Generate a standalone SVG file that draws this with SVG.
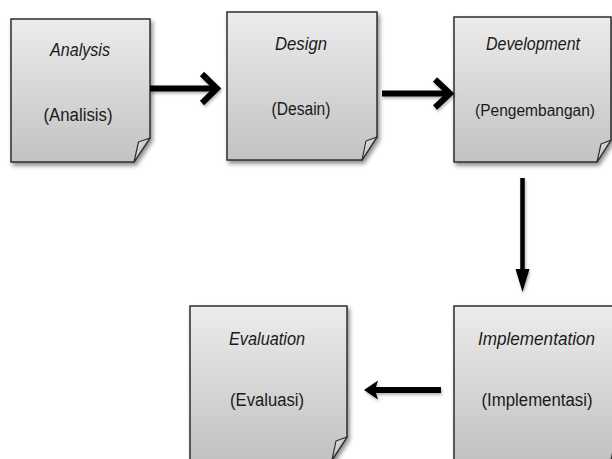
<svg xmlns="http://www.w3.org/2000/svg" width="612" height="459" viewBox="0 0 612 459">
  <defs>
    <linearGradient id="boxFill" x1="0" y1="0" x2="0" y2="1">
      <stop offset="0" stop-color="#ececec"/>
      <stop offset="1" stop-color="#c2c2c2"/>
    </linearGradient>
    <linearGradient id="flapFill" x1="0" y1="0" x2="1" y2="1">
      <stop offset="0" stop-color="#f4f4f4"/>
      <stop offset="1" stop-color="#9a9a9a"/>
    </linearGradient>
    <filter id="shadow" x="-10%" y="-10%" width="130%" height="130%">
      <feDropShadow dx="2" dy="3" stdDeviation="2" flood-color="#000" flood-opacity="0.45"/>
    </filter>
    <filter id="ashadow" x="-10%" y="-30%" width="130%" height="180%">
      <feDropShadow dx="1" dy="2" stdDeviation="1.5" flood-color="#000" flood-opacity="0.3"/>
    </filter>
  </defs>
  <style>
    .box { fill: url(#boxFill); stroke: #2e2e2e; stroke-width: 1.5; filter: url(#shadow); }
    .flap { fill: url(#flapFill); stroke: #2e2e2e; stroke-width: 1.2; stroke-linejoin: round; }
    .t { font-family: "Liberation Sans", Arial, sans-serif; font-size: 18px; fill: #1a1a1a; text-anchor: middle; }
    .i { font-style: italic; }
    .s { font-size: 16px; }
    .line { stroke: #000; fill: none; }
    .chev { stroke: #000; fill: none; stroke-width: 6; stroke-linejoin: miter; stroke-linecap: butt; }
    .head { fill: #000; }
  </style>
  <rect width="612" height="459" fill="#ffffff"/>

  <g id="analysis">
    <path class="box" d="M11,19 H150 V138 L134,162 H11 Z"/>
    <path class="flap" d="M134,162 L138.5,142 L150,138 Z"/>
    <text class="t i" x="80" y="56" textLength="60" lengthAdjust="spacingAndGlyphs">Analysis</text>
    <text class="t" x="78" y="121" textLength="69" lengthAdjust="spacingAndGlyphs">(Analisis)</text>
  </g>

  <g id="design">
    <path class="box" d="M227,12 H377 V137 L362,160 H227 Z"/>
    <path class="flap" d="M362,160 L366,141 L377,137 Z"/>
    <text class="t i" x="301" y="50" textLength="52" lengthAdjust="spacingAndGlyphs">Design</text>
    <text class="t" x="301" y="115" textLength="59" lengthAdjust="spacingAndGlyphs">(Desain)</text>
  </g>

  <g id="development">
    <path class="box" d="M454,17 H611 V140 L597,162 H454 Z"/>
    <path class="flap" d="M597,162 L601,144 L611,140 Z"/>
    <text class="t i" x="533" y="50" textLength="94" lengthAdjust="spacingAndGlyphs">Development</text>
    <text class="t s" x="535" y="116" textLength="120" lengthAdjust="spacingAndGlyphs">(Pengembangan)</text>
  </g>

  <g id="implementation">
    <path class="box" d="M454,306 H626 V437 L611,460 H454 Z"/>
    <path class="flap" d="M611,460 L615,441 L626,437 Z"/>
    <text class="t i" x="536.5" y="345" textLength="117" lengthAdjust="spacingAndGlyphs">Implementation</text>
    <text class="t" x="537" y="406" textLength="111" lengthAdjust="spacingAndGlyphs">(Implementasi)</text>
  </g>

  <g id="evaluation">
    <path class="box" d="M190,306 H347 V437 L332,460 H190 Z"/>
    <path class="flap" d="M332,460 L336,441 L347,437 Z"/>
    <text class="t i" x="267" y="345" textLength="76" lengthAdjust="spacingAndGlyphs">Evaluation</text>
    <text class="t" x="267" y="406" textLength="74" lengthAdjust="spacingAndGlyphs">(Evaluasi)</text>
  </g>

  <g id="connectors" filter="url(#ashadow)">
    <line class="line" x1="150" y1="88.5" x2="215" y2="88.5" stroke-width="6"/>
    <polyline class="chev" points="202,74 217,88.5 202,103"/>
    <line class="line" x1="382" y1="93.5" x2="448" y2="93.5" stroke-width="6"/>
    <polyline class="chev" points="435,79.5 450,93.5 435,107.5"/>
    <line class="line" x1="522.5" y1="178" x2="522.5" y2="272" stroke-width="4.5"/>
    <polygon class="head" points="515.5,269 529.5,269 522.5,292"/>
    <line class="line" x1="441" y1="390" x2="372" y2="390" stroke-width="6"/>
    <polygon class="head" points="364,390 378,380.5 375,390 378,399.5"/>
  </g>
</svg>
